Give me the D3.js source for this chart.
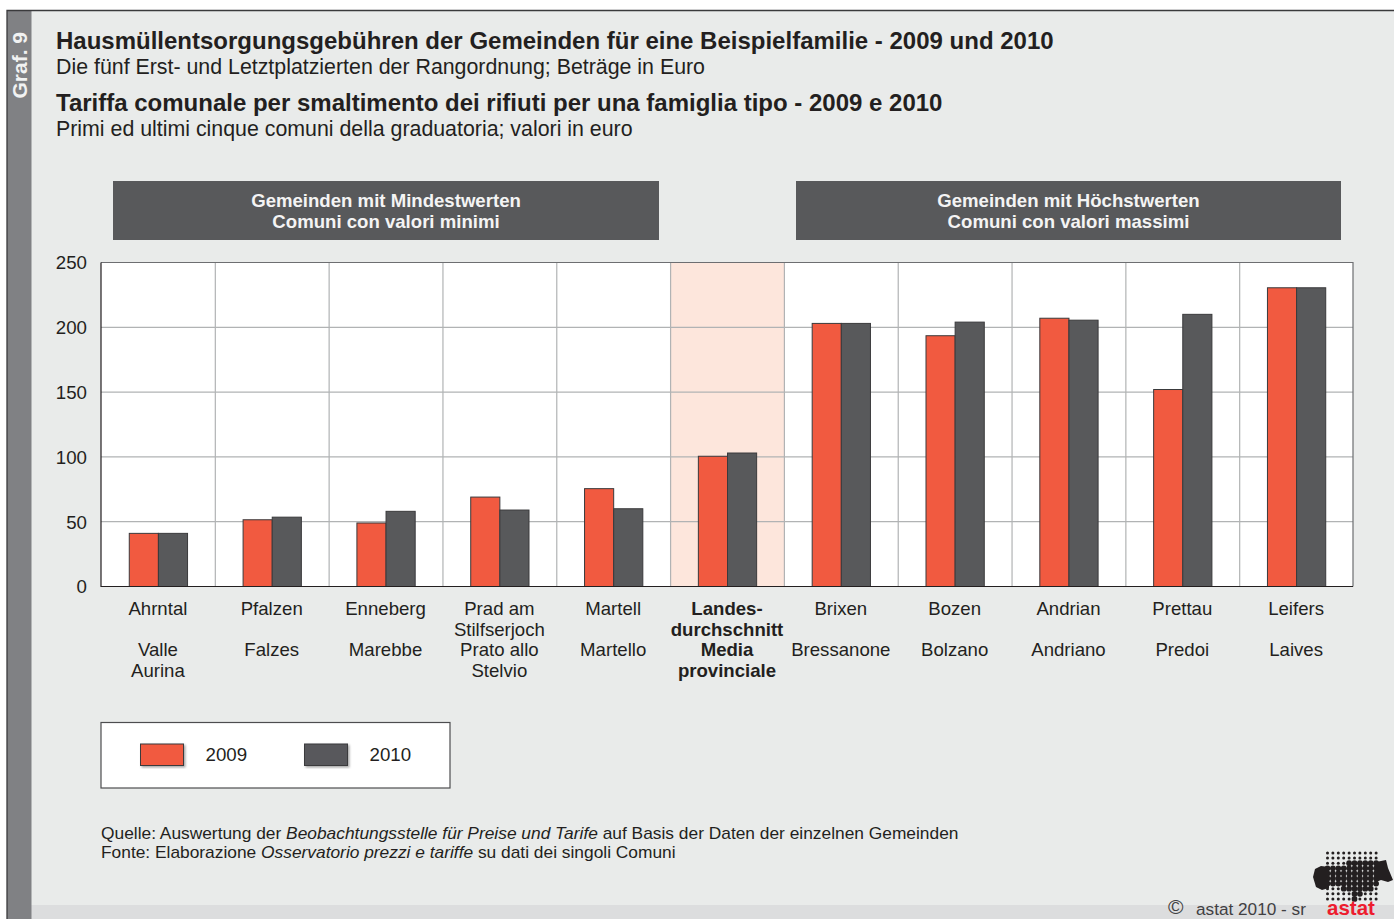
<!DOCTYPE html>
<html>
<head>
<meta charset="utf-8">
<script src="https://cdn.jsdelivr.net/npm/d3@7"></script>
<style>
html, body { margin: 0; padding: 0; background: #fff; overflow: hidden; }
svg { display: block; font-family: "Liberation Sans", Arial, sans-serif; }
</style>
</head>
<body>
<svg id="chart" width="1394" height="919"></svg>
<script>
const namesDe = [['Ahrntal'], ['Pfalzen'], ['Enneberg'], ['Prad am', 'Stilfserjoch'], ['Martell'],
  ['Landes-', 'durchschnitt'], ['Brixen'], ['Bozen'], ['Andrian'], ['Prettau'], ['Leifers']];
const namesIt = [['Valle', 'Aurina'], ['Falzes'], ['Marebbe'], ['Prato allo', 'Stelvio'], ['Martello'],
  ['Media', 'provinciale'], ['Bressanone'], ['Bolzano'], ['Andriano'], ['Predoi'], ['Laives']];
const values2009 = [41, 51.5, 49, 69, 75.5, 100.5, 203, 193.5, 207, 152, 230.5];
const values2010 = [41, 53.5, 58, 59, 60, 103, 203, 204, 205.5, 210, 230.5];
const yTicks = [0, 50, 100, 150, 200, 250];
const years = ['2009', '2010'];
const highlightIndex = 5;

const red = '#f15a40', gray = '#58595b', ink = '#231f20', gridCol = '#b1b3b4';
const svg = d3.select('#chart');

const defs = svg.append('defs');
const shadow = defs.append('filter').attr('id', 'sh')
  .attr('x', '-10%').attr('y', '-10%').attr('width', '125%').attr('height', '125%');
shadow.append('feDropShadow').attr('dx', 1.5).attr('dy', 1.5).attr('stdDeviation', 1)
  .attr('flood-color', '#000').attr('flood-opacity', 0.35);

// page frame
svg.append('rect').attr('x', 7).attr('y', 10.5).attr('width', 1387).attr('height', 909).attr('fill', '#e9ebea');
svg.append('rect').attr('x', 7).attr('y', 905).attr('width', 1387).attr('height', 14).attr('fill', '#dcddde');
svg.append('rect').attr('x', 7).attr('y', 10.5).attr('width', 24.5).attr('height', 909).attr('fill', '#808184');
svg.append('path').attr('d', 'M7,919V10.5H1394').attr('fill', 'none').attr('stroke', '#3a3a3c').attr('stroke-width', 1.3);

svg.append('text').attr('transform', 'translate(27,98.5) rotate(-90)')
  .attr('font-size', 21).attr('font-weight', 700).attr('fill', '#f1f2f2').text('Graf. 9');

// titles
function title(txt, y, size, bold) {
  svg.append('text').attr('x', 56).attr('y', y).attr('font-size', size)
    .attr('font-weight', bold ? 700 : 400).attr('fill', ink).text(txt);
}
title('Hausmüllentsorgungsgebühren der Gemeinden für eine Beispielfamilie - 2009 und 2010', 49, 24, true);
title('Die fünf Erst- und Letztplatzierten der Rangordnung; Beträge in Euro', 74, 21.35, false);
title('Tariffa comunale per smaltimento dei rifiuti per una famiglia tipo - 2009 e 2010', 111, 24, true);
title('Primi ed ultimi cinque comuni della graduatoria; valori in euro', 136, 21.35, false);

// group headers
const headers = [
  { x: 113, w: 546, l: ['Gemeinden mit Mindestwerten', 'Comuni con valori minimi'] },
  { x: 796, w: 545, l: ['Gemeinden mit Höchstwerten', 'Comuni con valori massimi'] }
];
headers.forEach(h => {
  svg.append('rect').attr('x', h.x).attr('y', 181).attr('width', h.w).attr('height', 59).attr('fill', gray);
  h.l.forEach((t, i) => {
    svg.append('text').attr('x', h.x + h.w / 2).attr('y', 207 + i * 21).attr('text-anchor', 'middle')
      .attr('font-size', 18.6).attr('font-weight', 700).attr('fill', '#f4f4f4').text(t);
  });
});

// scales
const x = d3.scaleBand().domain(d3.range(namesDe.length)).range([101.5, 1353.5]);
const y = d3.scaleLinear().domain([0, 250]).range([586.5, 262.5]);
const barW = x.bandwidth() * 0.256;

svg.append('rect').attr('x', 101).attr('y', y(250)).attr('width', 1252).attr('height', y(0) - y(250)).attr('fill', '#fff');
svg.append('rect').attr('x', x(highlightIndex)).attr('y', y(250)).attr('width', x.bandwidth())
  .attr('height', y(0) - y(250)).attr('fill', '#fde6dc');

// grid
svg.append('g').selectAll('line').data(yTicks.slice(1, -1)).join('line')
  .attr('x1', 101).attr('x2', 1353).attr('y1', d => y(d)).attr('y2', d => y(d))
  .attr('stroke', gridCol).attr('stroke-width', 1.2);
svg.append('g').selectAll('line').data(d3.range(1, namesDe.length)).join('line')
  .attr('x1', d => x(d)).attr('x2', d => x(d)).attr('y1', y(250)).attr('y2', y(0))
  .attr('stroke', gridCol).attr('stroke-width', 1.2);

// y axis
const yAxis = svg.append('g').attr('transform', 'translate(101,0.5)')
  .call(d3.axisLeft(y).tickValues(yTicks).tickSize(0).tickPadding(14));
yAxis.select('.domain').remove();
yAxis.selectAll('text').attr('font-size', 18.7).attr('fill', ink)
  .attr('font-family', '"Liberation Sans", Arial, sans-serif');

// bars
[values2009, values2010].forEach((vals, s) => {
  svg.append('g').selectAll('rect').data(vals).join('rect')
    .attr('x', (d, i) => x(i) + x.bandwidth() / 2 + (s - 1) * barW)
    .attr('y', d => y(d))
    .attr('width', barW)
    .attr('height', d => y(0) - y(d))
    .attr('fill', s ? gray : red)
    .attr('stroke', '#3a3a3c').attr('stroke-width', 1);
});

// plot border
svg.append('path').attr('d', `M101,${y(250)}H1353V${y(0)}`).attr('fill', 'none').attr('stroke', '#6d6e71').attr('stroke-width', 1.2);
svg.append('path').attr('d', `M101,${y(250)}V${y(0)}H1353`).attr('fill', 'none').attr('stroke', ink).attr('stroke-width', 1.2);

// category labels: German from the first row, Italian from the third
const labelRow = 20.6;
namesDe.forEach((de, i) => {
  const g = svg.append('g').attr('text-anchor', 'middle').attr('font-size', 18.6).attr('fill', ink)
    .attr('font-weight', i === highlightIndex ? 700 : 400);
  const cx = x(i) + x.bandwidth() / 2 - 0.5;
  de.forEach((t, k) => g.append('text').attr('x', cx).attr('y', 615 + k * labelRow).text(t));
  namesIt[i].forEach((t, k) => g.append('text').attr('x', cx).attr('y', 615 + (k + 2) * labelRow).text(t));
});

// legend
svg.append('rect').attr('x', 101).attr('y', 722.5).attr('width', 349).attr('height', 65.5)
  .attr('fill', '#fff').attr('stroke', '#4d4d4f').attr('stroke-width', 1.2);
const legendX = [140.5, 304.5];
years.forEach((yr, i) => {
  svg.append('rect').attr('x', legendX[i]).attr('y', 744).attr('width', 43).attr('height', 21.5)
    .attr('fill', i ? gray : red).attr('stroke', '#3a3a3c').attr('stroke-width', 1).attr('filter', 'url(#sh)');
  svg.append('text').attr('x', legendX[i] + 65).attr('y', 761).attr('font-size', 18.7).attr('fill', ink).text(yr);
});

// source
const src1 = svg.append('text').attr('x', 101).attr('y', 839).attr('font-size', 17.35).attr('fill', ink);
src1.append('tspan').text('Quelle: Auswertung der ');
src1.append('tspan').attr('font-style', 'italic').text('Beobachtungsstelle für Preise und Tarife');
src1.append('tspan').text(' auf Basis der Daten der einzelnen Gemeinden');
const src2 = svg.append('text').attr('x', 101).attr('y', 858).attr('font-size', 17.35).attr('fill', ink);
src2.append('tspan').text('Fonte: Elaborazione ');
src2.append('tspan').attr('font-style', 'italic').text('Osservatorio prezzi e tariffe');
src2.append('tspan').text(' su dati dei singoli Comuni');

const logo = svg.append('g').attr('fill', '#231f20');
// rows of the big dots: first and last column per row
const bigDots = { 2: [4, 9], 3: [0, 9], 4: [0, 9], 5: [0, 9], 6: [0, 9], 7: [3, 8], 8: [5, 6], 9: [5, 5] };
d3.range(10).forEach(r => d3.range(10).forEach(c => {
  const b = bigDots[r];
  const big = b && c >= b[0] && c <= b[1];
  logo.append('circle').attr('cx', 1327.5 + c * 5.4).attr('cy', 853 + r * 5.1).attr('r', big ? 2.9 : 1.5);
}));
logo.append('path').attr('d', 'M1313,877 L1315,869 L1321,866 L1329,867 L1329,888 L1322,890 L1316,887 Z');
logo.append('path').attr('d', 'M1376,862 L1386,860 L1388,868 L1393,880 L1388,882 L1381,880 L1376,882 Z');

// copyright and logo name, lifted so the whole text stays inside the page
svg.append('text').attr('x', 1168).attr('y', 914).attr('font-size', 21).attr('fill', '#414042').text('©');
svg.append('text').attr('x', 1196).attr('y', 915).attr('font-size', 17.2).attr('fill', '#414042').text('astat 2010 - sr');
svg.append('text').attr('x', 1327).attr('y', 914.5).attr('font-size', 20.5).attr('font-weight', 700).attr('fill', '#ed1c2e').text('astat');
</script>
</body>
</html>
